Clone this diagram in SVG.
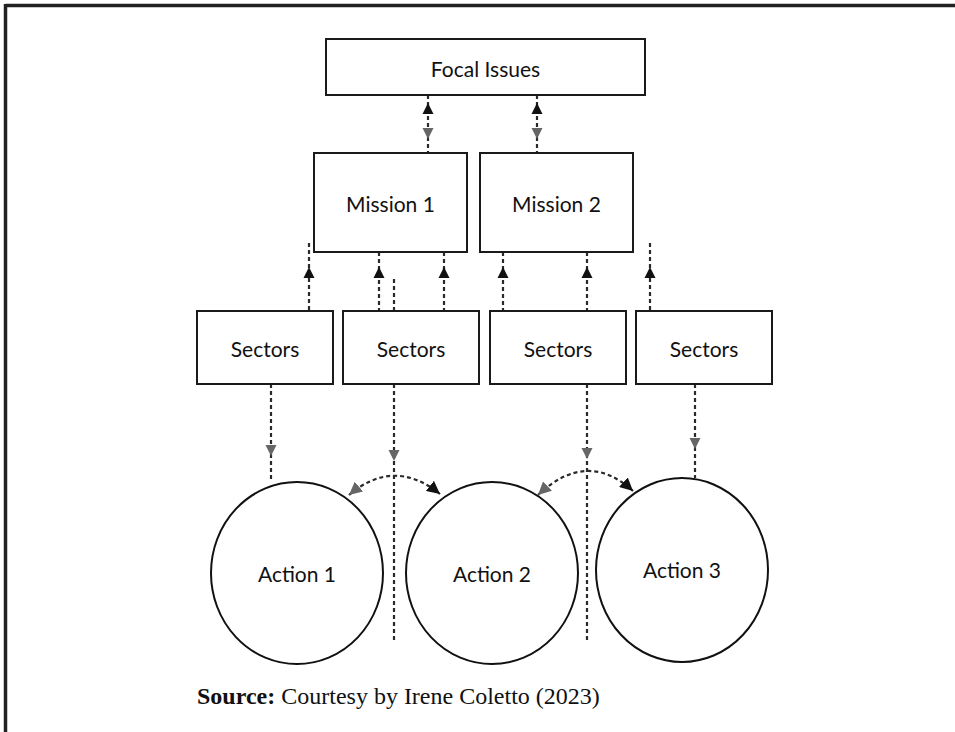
<svg xmlns="http://www.w3.org/2000/svg" xmlns:xlink="http://www.w3.org/1999/xlink" width="955" height="732" viewBox="0 0 955 732">
<style>
.box{fill:#fff;stroke:#1a1a1a;stroke-width:2}
.circ{fill:#fff;stroke:#111;stroke-width:2}
.lbl{font-family:Lato,"Open Sans","Liberation Sans",sans-serif;font-size:21px;fill:#111;text-anchor:middle}
.dash{fill:none;stroke:#2a2a2a;stroke-width:2.2;stroke-dasharray:4 3}
.blk{fill:#111}
.gry{fill:#666}
.src{font-family:"Liberation Serif","Times New Roman",serif;font-size:24px;fill:#111}
</style>
<defs>
<path id="up" d="M0,0 L-5.5,11 L5.5,11 Z"/>
<path id="down" d="M0,0 L-5.5,-11 L5.5,-11 Z"/>
<marker id="mStart" markerUnits="userSpaceOnUse" markerWidth="13" markerHeight="13" refX="10" refY="5" orient="auto-start-reverse" viewBox="0 0 10 10">
<path d="M0,0 L10,5 L0,10 Z" fill="#666"/>
</marker>
<marker id="mEnd" markerUnits="userSpaceOnUse" markerWidth="13" markerHeight="13" refX="10" refY="5" orient="auto" viewBox="0 0 10 10">
<path d="M0,0 L10,5 L0,10 Z" fill="#111"/>
</marker>
</defs>
<rect width="955" height="732" fill="#fff"/>
<g id="frame" stroke="#222" stroke-width="3.5" fill="none">
<line x1="5.5" y1="5.5" x2="955" y2="5.5"/>
<line x1="5.5" y1="4" x2="5.5" y2="732"/>
</g>
<g id="connectors">
<line class="dash" x1="428" y1="95" x2="428" y2="153"/>
<line class="dash" x1="537" y1="95" x2="537" y2="153"/>
<line class="dash" x1="309" y1="243" x2="309" y2="311"/>
<line class="dash" x1="379" y1="252" x2="379" y2="311"/>
<line class="dash" x1="394" y1="279" x2="394" y2="311"/>
<line class="dash" x1="444" y1="252" x2="444" y2="311"/>
<line class="dash" x1="503" y1="252" x2="503" y2="311"/>
<line class="dash" x1="587" y1="252" x2="587" y2="311"/>
<line class="dash" x1="650" y1="243" x2="650" y2="311"/>
<line class="dash" x1="271" y1="384" x2="271" y2="481"/>
<line class="dash" x1="394" y1="384" x2="394" y2="642"/>
<line class="dash" x1="587" y1="384" x2="587" y2="640"/>
<line class="dash" x1="695" y1="384" x2="695" y2="478"/>
<path class="dash" d="M349,495 Q394,457 440,494" marker-start="url(#mStart)" marker-end="url(#mEnd)"/>
<path class="dash" d="M538,495 Q587,449 633,491" marker-start="url(#mStart)" marker-end="url(#mEnd)"/>
<use xlink:href="#up" class="blk" x="428" y="103"/>
<use xlink:href="#down" class="gry" x="428" y="139"/>
<use xlink:href="#up" class="blk" x="537" y="103"/>
<use xlink:href="#down" class="gry" x="537" y="139"/>
<use xlink:href="#up" class="blk" x="309" y="267"/>
<use xlink:href="#up" class="blk" x="379" y="267"/>
<use xlink:href="#up" class="blk" x="444" y="267"/>
<use xlink:href="#up" class="blk" x="503" y="267"/>
<use xlink:href="#up" class="blk" x="587" y="267"/>
<use xlink:href="#up" class="blk" x="650" y="267"/>
<use xlink:href="#down" class="gry" x="271" y="456"/>
<use xlink:href="#down" class="gry" x="394" y="461"/>
<use xlink:href="#down" class="gry" x="587" y="459"/>
<use xlink:href="#down" class="gry" x="695" y="449"/>
</g>
<g id="focal"><rect class="box" x="326" y="39" width="319" height="56"/><text class="lbl" x="485.5" y="77">Focal Issues</text></g>
<g id="mission1"><rect class="box" x="314" y="153" width="153" height="99"/><text class="lbl" x="390.5" y="212">Mission 1</text></g>
<g id="mission2"><rect class="box" x="480" y="153" width="153" height="99"/><text class="lbl" x="556.5" y="212">Mission 2</text></g>
<g id="sectors1"><rect class="box" x="197" y="311" width="136" height="73"/><text class="lbl" x="265" y="357">Sectors</text></g>
<g id="sectors2"><rect class="box" x="343" y="311" width="136" height="73"/><text class="lbl" x="411" y="357">Sectors</text></g>
<g id="sectors3"><rect class="box" x="490" y="311" width="136" height="73"/><text class="lbl" x="558" y="357">Sectors</text></g>
<g id="sectors4"><rect class="box" x="636" y="311" width="136" height="73"/><text class="lbl" x="704" y="357">Sectors</text></g>
<g id="action1"><ellipse class="circ" cx="297" cy="573" rx="86" ry="91"/><text class="lbl" x="297" y="582">Action 1</text></g>
<g id="action2"><ellipse class="circ" cx="492" cy="573" rx="86" ry="91"/><text class="lbl" x="492" y="582">Action 2</text></g>
<g id="action3"><ellipse class="circ" cx="682" cy="570" rx="86" ry="92"/><text class="lbl" x="682" y="578">Action 3</text></g>
<text class="src" x="197" y="704"><tspan font-weight="bold">Source:</tspan> Courtesy by Irene Coletto (2023)</text>
</svg>
